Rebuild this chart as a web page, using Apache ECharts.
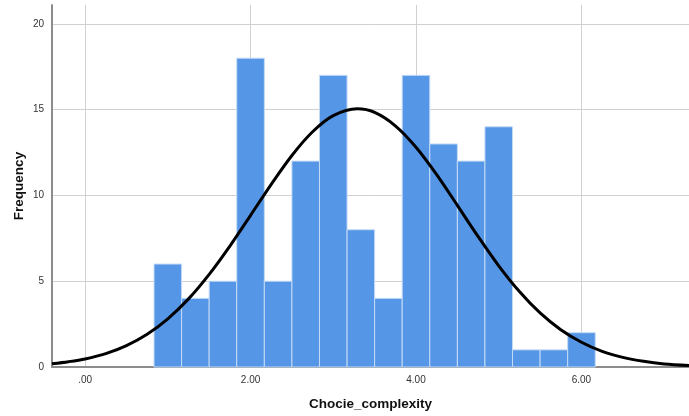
<!DOCTYPE html>
<html>
<head>
<meta charset="utf-8">
<script src="https://cdn.jsdelivr.net/npm/echarts@6/dist/echarts.min.js"></script>
<style>
html,body{margin:0;padding:0;background:#fff;}
#chart{width:689px;height:416px;}
</style>
</head>
<body>
<div id="chart"></div>
<script>
// Histogram bins (lower edge, upper edge) and frequencies
var binStarts = [0.8333, 1.1667, 1.5, 1.8333, 2.1667, 2.5, 2.8333, 3.1667, 3.5, 3.8333, 4.1667, 4.5, 4.8333, 5.1667, 5.5, 5.8333];
var binEnds   = [1.1667, 1.5, 1.8333, 2.1667, 2.5, 2.8333, 3.1667, 3.5, 3.8333, 4.1667, 4.5, 4.8333, 5.1667, 5.5, 5.8333, 6.1667];
var frequencies = [6, 4, 5, 18, 5, 12, 17, 8, 4, 17, 13, 12, 14, 1, 1, 2];

// Normal curve points
var curveX = [-0.4, -0.2, 0.0, 0.25, 0.5, 0.75, 1.0, 1.25, 1.5, 1.75, 2.0, 2.25, 2.5, 2.75, 3.0, 3.29, 3.5, 3.75, 4.0, 4.25, 4.5, 4.75, 5.0, 5.25, 5.5, 5.75, 6.0, 6.25, 6.5, 6.75, 7.0, 7.3];
var curveY = [0.19, 0.31, 0.47, 0.78, 1.25, 1.91, 2.81, 3.97, 5.40, 7.05, 8.84, 10.65, 12.33, 13.71, 14.65, 15.05, 14.84, 14.06, 12.81, 11.21, 9.42, 7.61, 5.90, 4.40, 3.15, 2.17, 1.44, 0.91, 0.56, 0.33, 0.18, 0.09];

// Tick labels
var xTickValues = [0, 2, 4, 6];
var xTickLabels = ['.00', '2.00', '4.00', '6.00'];
var yTickValues = [0, 5, 10, 15, 20];

var barData = binStarts.map(function (s, i) { return [s, binEnds[i], frequencies[i]]; });
var lineData = curveX.map(function (x, i) { return [x, curveY[i]]; });

var chart = echarts.init(document.getElementById('chart'), null, {renderer: 'canvas'});
chart.setOption({
  animation: false,
  backgroundColor: '#ffffff',
  grid: {left: 52, right: 0, top: 5, bottom: 48, containLabel: false},
  xAxis: {
    type: 'value',
    min: -0.4,
    max: 7.3,
    name: 'Chocie_complexity',
    nameLocation: 'middle',
    nameGap: 30,
    nameMoveOverlap: false,
    nameTextStyle: {fontFamily: 'Liberation Sans', fontWeight: 'bold', fontSize: 13.5, color: '#111'},
    axisLine: {show: true, onZero: false, lineStyle: {color: '#8c8c8c', width: 2}},
    axisTick: {show: false, customValues: xTickValues},
    axisLabel: {
      customValues: xTickValues,
      formatter: function (v) { var i = xTickValues.indexOf(v); return i >= 0 ? xTickLabels[i] : ''; },
      fontFamily: 'Liberation Sans', fontSize: 10, color: '#333', margin: 8
    },
    splitLine: {show: true, lineStyle: {color: '#d0d0d0', width: 1}}
  },
  yAxis: {
    type: 'value',
    min: 0,
    max: 21.1,
    interval: 5,
    name: 'Frequency',
    nameLocation: 'middle',
    nameGap: 26,
    nameMoveOverlap: false,
    nameTextStyle: {fontFamily: 'Liberation Sans', fontWeight: 'bold', fontSize: 13.5, color: '#111'},
    axisLine: {show: true, onZero: false, lineStyle: {color: '#8c8c8c', width: 2}},
    axisTick: {show: false, customValues: yTickValues},
    axisLabel: {
      customValues: yTickValues,
      fontFamily: 'Liberation Sans', fontSize: 10, color: '#333', margin: 8
    },
    splitLine: {show: true, lineStyle: {color: '#d0d0d0', width: 1}}
  },
  series: [
    {
      type: 'custom',
      data: barData,
      encode: {x: [0, 1], y: 2},
      z: 2,
      renderItem: function (params, api) {
        var p0 = api.coord([api.value(0), api.value(2)]);
        var p1 = api.coord([api.value(1), 0]);
        return {
          type: 'rect',
          shape: {x: p0[0], y: p0[1], width: p1[0] - p0[0], height: p1[1] - p0[1]},
          style: {fill: '#5596e6', stroke: '#c4dbf6', lineWidth: 1}
        };
      }
    },
    {
      type: 'line',
      data: lineData,
      smooth: 0.3,
      showSymbol: false,
      z: 3,
      lineStyle: {color: '#000', width: 3}
    }
  ]
});
</script>
</body>
</html>
